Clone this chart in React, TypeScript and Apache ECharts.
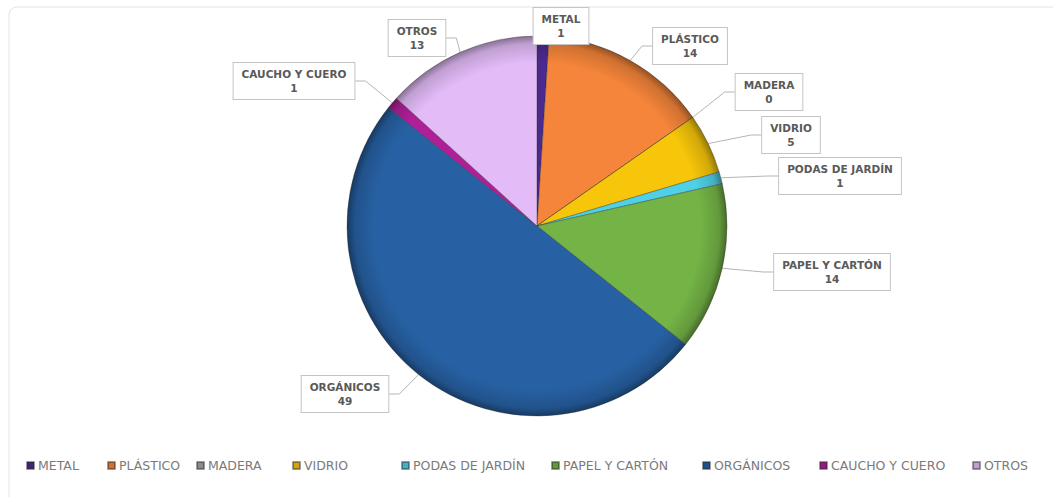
import React, { useEffect, useRef } from "react";
import * as echarts from "echarts";

const categories = [
  "METAL",
  "PLÁSTICO",
  "MADERA",
  "VIDRIO",
  "PODAS DE JARDÍN",
  "PAPEL Y CARTÓN",
  "ORGÁNICOS",
  "CAUCHO Y CUERO",
  "OTROS",
];
const values = [1, 14, 0, 5, 1, 14, 49, 1, 13];

const colors = [
  "#4a2a8c",
  "#f5853a",
  "#a5a5a5",
  "#f7c60a",
  "#4fd0e6",
  "#74b446",
  "#2761a3",
  "#b01f98",
  "#e2bbf7",
];

// label box centres (layout only)
const labelSpots: [number, number][] = [
  [561, 26],
  [690, 46],
  [769, 92],
  [791, 135],
  [840, 176],
  [832, 272],
  [345, 394],
  [294, 81],
  [417, 38],
];

// legend item left edges (layout only)
const legendLefts = [26, 107, 196, 292, 401, 551, 702, 819, 972];

const CX = 537;
const CY = 226;
const R = 190;

function shade(hex: string, f: number): string {
  const n = parseInt(hex.slice(1), 16);
  const r = Math.round(((n >> 16) & 255) * f);
  const g = Math.round(((n >> 8) & 255) * f);
  const b = Math.round((n & 255) * f);
  return `rgb(${Math.min(255, r)},${Math.min(255, g)},${Math.min(255, b)})`;
}

export default function App() {
  const ref = useRef<HTMLDivElement>(null);
  useEffect(() => {
    document.body.style.margin = "0";
    if (!ref.current) return;
    const chart = echarts.init(ref.current, null, { renderer: "svg" });
    const data = categories.map((name, i) => ({
      name,
      value: values[i],
      itemStyle: {
        color: {
          type: "radial",
          x: CX,
          y: CY,
          r: R,
          global: true,
          colorStops: [
            { offset: 0, color: colors[i] },
            { offset: 0.86, color: colors[i] },
            { offset: 0.96, color: shade(colors[i], 0.85) },
            { offset: 1, color: shade(colors[i], 0.6) },
          ],
        },
      },
    }));
    const legends = categories.map((name, i) => ({
      left: legendLefts[i],
      top: 459,
      padding: 0,
      itemWidth: 7,
      itemHeight: 7,
      icon: "rect",
      textStyle: {
        fontFamily: "DejaVu Sans",
        fontSize: 12.5,
        color: "#7a7a7a",
        padding: [0, 0, 0, -1],
      },
      data: [{ name, itemStyle: { color: shade(colors[i], 0.85) } }],
    }));
    chart.setOption({
      animation: false,
      color: colors,
      graphic: [
        {
          type: "rect",
          shape: { x: 9, y: 7, width: 1070, height: 520, r: 8 },
          style: { fill: "none", stroke: "#e4e4e4", lineWidth: 1 },
          silent: true,
        },
      ],
      legend: legends,
      series: [
        {
          type: "pie",
          center: [CX, CY],
          radius: R,
          startAngle: 90,
          clockwise: true,
          avoidLabelOverlap: false,
          stillShowZeroSum: true,
          minShowLabelAngle: 0,
          data,
          itemStyle: {
            borderColor: "rgba(40,40,40,0.45)",
            borderWidth: 0.8,
          },
          label: {
            show: true,
            position: "outside",
            formatter: "{b}\n{c}",
            fontFamily: "DejaVu Sans",
            fontWeight: "bold",
            fontSize: 10.5,
            lineHeight: 14,
            color: "#595959",
            backgroundColor: "#ffffff",
            borderColor: "#c4c4c4",
            borderWidth: 1,
            padding: [4, 8],
            align: "center",
          },
          labelLine: {
            show: true,
            length: 10,
            length2: 10,
            lineStyle: { color: "#b5b5b5", width: 1 },
          },
          labelLayout: (params: any) => {
            const p = labelSpots[params.dataIndex];
            return {
              x: p[0],
              y: p[1],
              align: "center",
              verticalAlign: "middle",
            };
          },
          emphasis: { disabled: true },
        },
      ],
    });
    return () => chart.dispose();
  }, []);
  return <div ref={ref} style={{ width: 1053, height: 497 }} />;
}
